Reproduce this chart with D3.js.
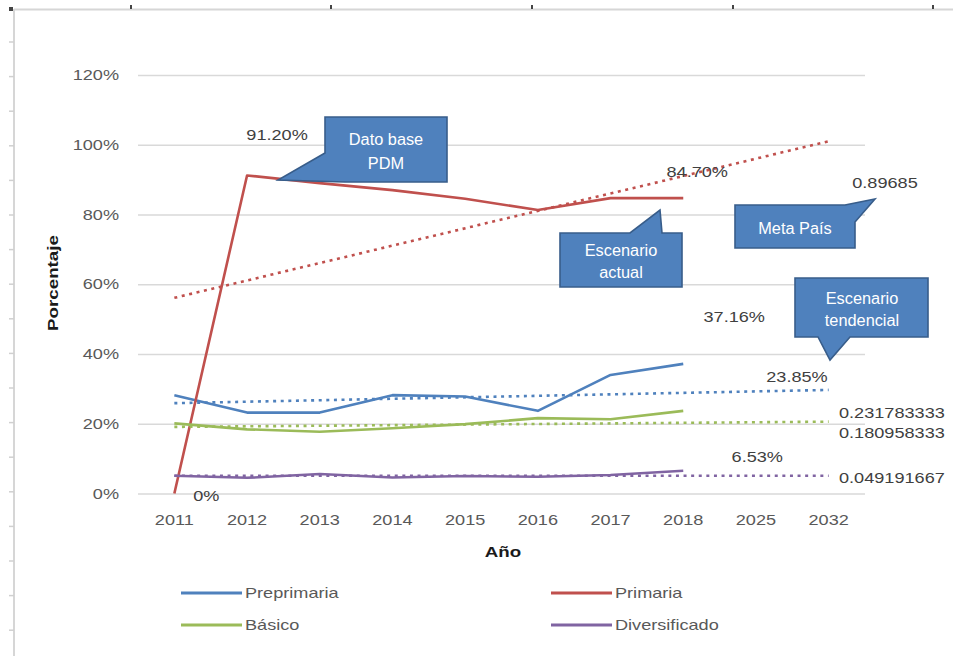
<!DOCTYPE html>
<html>
<head>
<meta charset="utf-8">
<script src="https://cdn.jsdelivr.net/npm/d3@7"></script>
<style>
  body { margin: 0; background: #fff; }
  svg { display: block; font-family: "Liberation Sans", Arial, sans-serif; }
  .grid line { stroke: #d9d9d9; stroke-width: 1.3px; }
  .grid path { display: none; }
  .line { fill: none; stroke-width: 2.6px; stroke-linejoin: round; }
  .trend { fill: none; stroke-width: 2.6px; stroke-dasharray: 3 4.6; }
  .tick-label { fill: #595959; font-size: 14.5px; }
  .data-label { fill: #404040; font-size: 14.5px; }
  .title { fill: #1a1a1a; font-size: 15px; font-weight: bold; }
  .callout path { fill: #4f81bd; stroke: #385d8a; stroke-width: 1.6px; }
  .callout text { fill: #fff; font-size: 16px; text-anchor: middle; }
</style>
</head>
<body>
<script>
  // categorias del eje X
  let years = ['2011', '2012', '2013', '2014', '2015', '2016', '2017', '2018', '2025', '2032'];
  let yTicks = [0, 0.2, 0.4, 0.6, 0.8, 1.0, 1.2];

  // series (2011-2018)
  let preprimaria = [0.282, 0.232, 0.232, 0.282, 0.278, 0.237, 0.340, 0.3716];
  let primaria = [0, 0.912, 0.890, 0.870, 0.845, 0.813, 0.847, 0.847];
  let basico = [0.201, 0.184, 0.177, 0.187, 0.199, 0.216, 0.213, 0.237];
  let diversificado = [0.051, 0.045, 0.056, 0.046, 0.050, 0.048, 0.053, 0.0653];

  // escenario tendencial (2011 -> 2032)
  let trendYears = ['2011', '2032'];
  let tendPreprimaria = [0.259, 0.297];
  let tendPrimaria = [0.561, 1.010];
  let tendBasico = [0.191, 0.206];
  let tendDiversificado = [0.051, 0.051];

  let names = ['Preprimaria', 'Primaria', 'Básico', 'Diversificado'];
  let colors = ['#4f81bd', '#c0504d', '#9bbb59', '#8064a2'];

  let width = 953, height = 656;
  let svg = d3.select('body').append('svg')
    .attr('width', width)
    .attr('height', height);

  // marco de la hoja de calculo
  let frame = svg.append('g');
  frame.append('line').attr('x1', 14).attr('x2', width).attr('y1', 9.5).attr('y2', 9.5)
    .attr('stroke', '#d6d6d6').attr('stroke-width', 2);
  frame.append('line').attr('x1', 14).attr('x2', 14).attr('y1', 9).attr('y2', height)
    .attr('stroke', '#d6d6d6').attr('stroke-width', 2);
  [131, 331, 532, 733, 933].forEach(function(x) {
    frame.append('line').attr('x1', x).attr('x2', x).attr('y1', 5).attr('y2', 9)
      .attr('stroke', '#444').attr('stroke-width', 2);
  });
  frame.append('rect').attr('x', 9).attr('y', 7).attr('width', 4).attr('height', 4).attr('fill', '#444');
  for (let y = 42; y < height; y += 34.6) {
    frame.append('line').attr('x1', 9).attr('x2', 14).attr('y1', y).attr('y2', y)
      .attr('stroke', '#d0d0d0').attr('stroke-width', 1.5);
  }

  let plot = {left: 138, right: 865, top: 75, bottom: 493.5};

  let x = d3.scalePoint()
    .domain(years)
    .range([plot.left, plot.right])
    .padding(0.5);

  let y = d3.scaleLinear()
    .domain([0, 1.2])
    .range([plot.bottom, plot.top]);

  // texto "ancho" como en la captura original
  function wideText(g, tx, ty, str, cls, anchor, rot) {
    let t = g.append('text')
      .attr('class', cls)
      .attr('transform', 'translate(' + tx + ',' + ty + ')' + (rot ? ' rotate(' + rot + ')' : '') + ' scale(1.25,1)')
      .attr('text-anchor', anchor || 'start')
      .attr('dy', '0.36em')
      .text(str);
    return t;
  }

  // lineas de cuadricula
  svg.append('g')
    .attr('class', 'grid')
    .attr('transform', 'translate(' + plot.left + ',0)')
    .call(d3.axisLeft(y).tickValues(yTicks).tickSize(-(plot.right - plot.left)).tickFormat(''));

  // etiquetas eje Y
  let yAxis = svg.append('g');
  yTicks.forEach(function(v) {
    wideText(yAxis, 119, y(v), d3.format('.0%')(v), 'tick-label', 'end');
  });

  // etiquetas eje X
  let xAxis = svg.append('g');
  years.forEach(function(yr) {
    wideText(xAxis, x(yr), 520, yr, 'tick-label', 'middle');
  });

  wideText(svg, 53, 283, 'Porcentaje', 'title', 'middle', -90);
  wideText(svg, 503, 552, 'Año', 'title', 'middle');

  let line = d3.line()
    .x(function(d) { return x(d.year); })
    .y(function(d) { return y(d.value); });

  let series = [preprimaria, primaria, basico, diversificado];
  let trends = [tendPreprimaria, tendPrimaria, tendBasico, tendDiversificado];

  series.forEach(function(values, i) {
    svg.append('path')
      .datum(values.map(function(v, j) { return {year: years[j], value: v}; }))
      .attr('class', 'line')
      .attr('stroke', colors[i])
      .attr('d', line);
  });

  trends.forEach(function(values, i) {
    svg.append('path')
      .datum(values.map(function(v, j) { return {year: trendYears[j], value: v}; }))
      .attr('class', 'trend')
      .attr('stroke', colors[i])
      .attr('d', line);
  });

  // etiquetas de datos
  let labels = [
    {text: '91.20%', x: x('2012') + 30, y: y(0.912) - 41, anchor: 'middle'},
    {text: '84.70%', x: x('2018') + 14, y: y(0.847) - 26, anchor: 'middle'},
    {text: '0.89685', x: 885, y: 183, anchor: 'middle'},
    {text: '37.16%', x: x('2018') + 51, y: y(0.3716) - 47, anchor: 'middle'},
    {text: '23.85%', x: 797, y: 377, anchor: 'middle'},
    {text: '0.231783333', x: 839, y: 413, anchor: 'start'},
    {text: '0.180958333', x: 839, y: 433, anchor: 'start'},
    {text: '6.53%', x: x('2018') + 74, y: y(0.0653) - 14, anchor: 'middle'},
    {text: '0.049191667', x: 839, y: 478, anchor: 'start'},
    {text: '0%', x: x('2011') + 32, y: y(0) + 2, anchor: 'middle'}
  ];
  let labelGroup = svg.append('g');
  labels.forEach(function(l) {
    wideText(labelGroup, l.x, l.y, l.text, 'data-label', l.anchor);
  });

  // globos (callouts)
  let callouts = [
    {lines: ['Dato base', 'PDM'], cx: 386, ty: [139, 163],
     pts: [[325, 117], [447, 117], [447, 182], [345, 182], [278, 180], [325, 153]]},
    {lines: ['Escenario', 'actual'], cx: 621, ty: [250, 272],
     pts: [[560, 233], [630, 233], [660, 210], [662, 233], [682, 233], [682, 287], [560, 287]]},
    {lines: ['Meta  País'], cx: 795, ty: [228],
     pts: [[735, 205], [845, 205], [875, 199], [855, 222], [855, 248], [735, 248]]},
    {lines: ['Escenario', 'tendencial'], cx: 862, ty: [298, 320],
     pts: [[795, 278], [928, 278], [928, 337], [850, 337], [830, 360], [818, 337], [795, 337]]}
  ];
  callouts.forEach(function(c) {
    let g = svg.append('g').attr('class', 'callout');
    g.append('path').attr('d', 'M' + c.pts.join('L') + 'Z');
    c.lines.forEach(function(str, k) {
      g.append('text')
        .attr('transform', 'translate(' + c.cx + ',' + c.ty[k] + ') scale(1.02,1)')
        .attr('dy', '0.36em')
        .text(str);
    });
  });

  // leyenda
  let legend = svg.append('g');
  let legendPos = [[181, 593], [551, 593], [181, 625], [551, 625]];
  names.forEach(function(name, i) {
    let p = legendPos[i];
    legend.append('line')
      .attr('x1', p[0]).attr('x2', p[0] + 61)
      .attr('y1', p[1]).attr('y2', p[1])
      .attr('stroke', colors[i])
      .attr('stroke-width', 3);
    wideText(legend, p[0] + 64, p[1], name, 'tick-label', 'start');
  });
</script>
</body>
</html>
